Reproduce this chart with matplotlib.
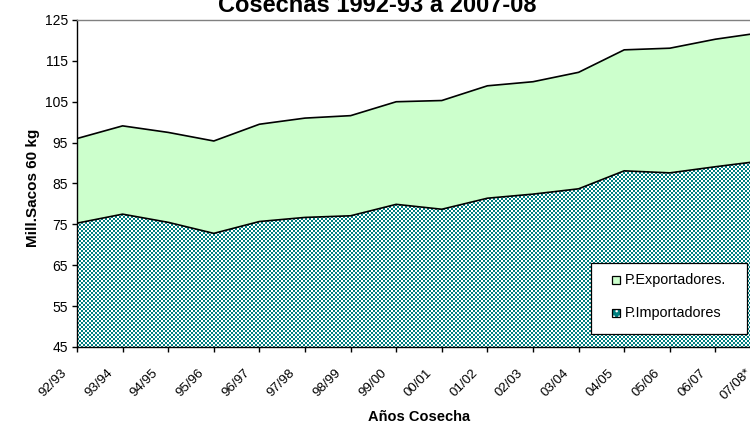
import numpy as np
import matplotlib
matplotlib.use("Agg")
import matplotlib.pyplot as plt
from matplotlib.patches import Rectangle
from matplotlib.transforms import ScaledTranslation

plt.rcParams['font.family'] = ['Liberation Sans', 'DejaVu Sans']

cosechas = ["92/93", "93/94", "94/95", "95/96", "96/97", "97/98", "98/99", "99/00",
            "00/01", "01/02", "02/03", "03/04", "04/05", "05/06", "06/07", "07/08*"]
importadores = [75.3, 77.5, 75.5, 72.8, 75.7, 76.7, 77.1, 79.9,
                78.7, 81.4, 82.4, 83.7, 88.1, 87.6, 89.1, 90.5]
exportadores = [20.7, 21.6, 22.0, 22.6, 23.8, 24.3, 24.5, 25.1,
                26.6, 27.5, 27.5, 28.5, 29.6, 30.5, 31.2, 31.4]
series_names = ['P.Exportadores.', 'P.Importadores']

W, H = 750, 426
DPI = 100
fig = plt.figure(figsize=(W / DPI, H / DPI), dpi=DPI)
x0, x1, ytop, ybot = 77, 761, 20, 347
ax = fig.add_axes([x0 / W, 1 - ybot / H, (x1 - x0) / W, (ybot - ytop) / H])

x = np.arange(len(cosechas))
imp = np.array(importadores)
tot = imp + np.array(exportadores)
ymin, ymax = 45, 125

# exporters (upper stacked area)
ax.fill_between(x, imp, tot, facecolor='#ccffcc', edgecolor='none', zorder=1)
# importers area: patterned
poly = ax.fill_between(x, ymin, imp, facecolor='none', edgecolor='none', zorder=2)
pw, ph = x1 - x0, ybot - ytop
tile = np.array([[1, 1, 0, 0],
                 [1, 1, 0, 0],
                 [0, 0, 1, 1],
                 [0, 0, 1, 1]])
reps = np.tile(tile, (ph // 4 + 2, pw // 4 + 2))[:ph, :pw]
teal = np.array([0, 128, 128]) / 255.0
white = np.array([1.0, 1.0, 1.0])
img = np.where(reps[..., None] == 1, white, teal)
im = ax.imshow(img, extent=(0, len(x) - 1, ymin, ymax), aspect='auto',
               interpolation='nearest', origin='upper', zorder=2)
im.set_clip_path(poly.get_paths()[0], ax.transData)

ax.plot(x, tot, color='black', lw=1.2, zorder=3)
ax.plot(x, imp, color='black', lw=1.2, zorder=3)

ax.set_xlim(0, len(x) - 1)
ax.set_ylim(ymin, ymax)
ax.set_yticks(np.arange(45, 126, 10))
ax.set_xticks(x)
ax.set_xticklabels(cosechas, rotation=45, ha='right', va='top',
                   rotation_mode='anchor', fontsize=9.6)
for lab in ax.get_yticklabels():
    lab.set_fontsize(10)
ax.tick_params(axis='both', direction='out', length=5 * 72 / DPI, width=1,
               color='black')
ax.tick_params(axis='y', pad=3)
ax.tick_params(axis='x', pad=10.5)
off = ScaledTranslation(-16 / DPI, 0, fig.dpi_scale_trans)
for lab in ax.get_xticklabels():
    lab.set_transform(lab.get_transform() + off)

ax.spines['left'].set_color('black')
ax.spines['bottom'].set_color('black')
ax.spines['top'].set_color('#808080')
ax.spines['right'].set_color('#808080')
for s in ax.spines.values():
    s.set_linewidth(1)

fig.text(33 / W, 1 - 188 / H, 'Mill.Sacos 60 kg', rotation=90, ha='center',
         va='center', fontsize=11, fontweight='bold')
fig.text(419 / W, 1 - 417 / H, 'Años Cosecha', ha='center', va='center',
         fontsize=10.5, fontweight='bold')

fig.text(377 / W, 1 - 12 / H, 'Cosechas 1992-93 a 2007-08', ha='center',
         va='baseline', fontsize=17, fontweight='bold')

# legend (drawn in figure pixel coordinates)
def fx(px):
    return px / W

def fy(py):
    return 1 - py / H

lx0, lx1, ly0, ly1 = 591, 747, 263, 334
fig.add_artist(Rectangle((fx(lx0), fy(ly1)), fx(lx1) - fx(lx0), fy(ly0) - fy(ly1),
                         transform=fig.transFigure, facecolor='white',
                         edgecolor='black', lw=0.9, zorder=5))
rows = [280, 313]
sq = 8
fig.add_artist(Rectangle((fx(612), fy(rows[0] + sq / 2)), fx(sq), sq / H,
                         transform=fig.transFigure, facecolor='#ccffcc',
                         edgecolor='black', lw=0.9, zorder=6))
fig.add_artist(Rectangle((fx(612), fy(rows[1] + sq / 2)), fx(sq), sq / H,
                         transform=fig.transFigure, facecolor='#008080',
                         edgecolor='white', hatch='...', lw=0, zorder=6))
fig.add_artist(Rectangle((fx(612), fy(rows[1] + sq / 2)), fx(sq), sq / H,
                         transform=fig.transFigure, facecolor='none',
                         edgecolor='black', lw=0.9, zorder=7))
for ry, name in zip(rows, series_names):
    fig.text(fx(625), fy(ry), name, ha='left', va='center', fontsize=10.4,
             zorder=7)

fig.savefig('out.png', dpi=DPI)
